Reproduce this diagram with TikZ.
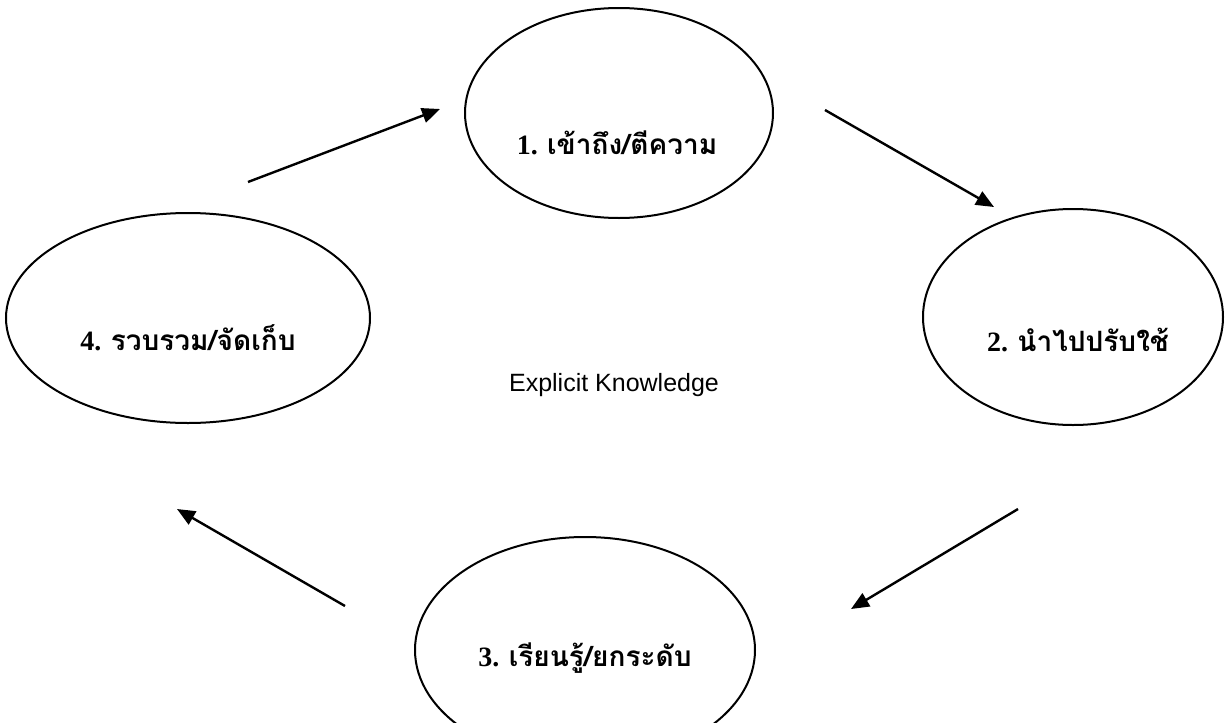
\documentclass[tikz,border=0pt]{standalone}
\usepackage{fontspec}
\setmainfont{Liberation Serif}
\newfontfamily\thaifont[Script=Thai]{Loma}
\newfontfamily\arialfont{Liberation Sans}
\usetikzlibrary{shapes.geometric,arrows.meta}
\tikzset{
  stage/.style={draw, ellipse, line width=2pt, inner sep=0pt},
  lbl/.style={font=\bfseries\fontsize{28}{34}\selectfont, inner sep=0pt},
  flow/.style={line width=2.4pt, -{Triangle[length=18pt,width=15pt]}}
}
\begin{document}
\begin{tikzpicture}[x=1pt,y=-1pt]
\useasboundingbox (0,0) rectangle (1232,723);
% ellipses
\node[stage, minimum width=308pt, minimum height=210pt] (e1) at (619,113) {};
\node[stage, minimum width=300pt, minimum height=216pt] (e2) at (1073,317) {};
\node[stage, minimum width=340pt, minimum height=226pt] (e3) at (585,650) {};
\node[stage, minimum width=364pt, minimum height=210pt] (e4) at (188,318) {};
% labels
\node[lbl] (t1) at (617,143) {1. {\thaifont\bfseries เข้าถึง/ตีความ}};
\node[lbl] (t2) at (1078,340) {2. {\thaifont\bfseries นำไปปรับใช้}};
\node[lbl] (t3) at (585,658) {3. {\thaifont\bfseries เรียนรู้/ยกระดับ}};
\node[lbl] (t4) at (188,338) {4. {\thaifont\bfseries รวบรวม/จัดเก็บ}};
\node[font=\arialfont\fontsize{25}{30}\selectfont, inner sep=0pt] (ek) at (614,385) {Explicit Knowledge};
% arrow ends
\coordinate (a1s) at (248,182);
\coordinate (a1e) at (440,109);
\coordinate (a2s) at (825,110);
\coordinate (a2e) at (994,207);
\coordinate (a3s) at (1018,509);
\coordinate (a3e) at (851,609);
\coordinate (a4s) at (345,606);
\coordinate (a4e) at (177,509);
\draw[flow] (a1s) -- (a1e);
\draw[flow] (a2s) -- (a2e);
\draw[flow] (a3s) -- (a3e);
\draw[flow] (a4s) -- (a4e);
\end{tikzpicture}
\end{document}
